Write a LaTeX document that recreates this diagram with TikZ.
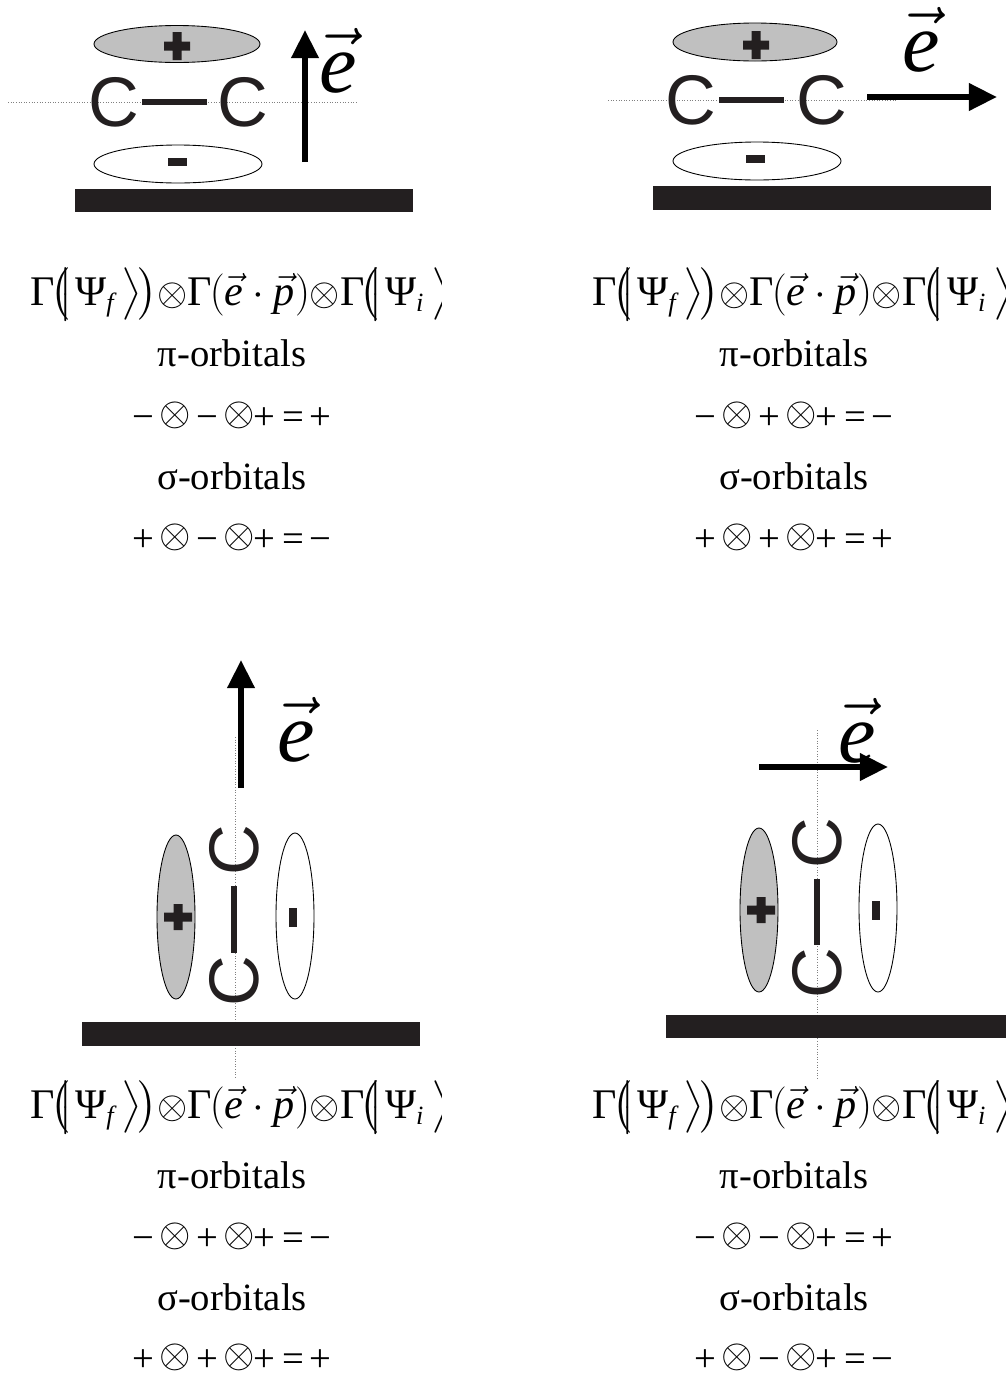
\documentclass[tikz,border=0pt]{standalone}
\usepackage{fix-cm}
\usepackage{amsmath}
\usepackage{graphicx}
\usepackage{fontspec}
\setmainfont{Liberation Serif}
\newfontfamily\atomfont{Liberation Sans}
\usetikzlibrary{arrows.meta}
\definecolor{surface}{RGB}{35,31,32}
\definecolor{lobegray}{RGB}{192,192,192}

% |Psi> inside the brackets
\newcommand{\psiket}[1]{\bigl(\mskip-5mu\bigl|\mskip1mu\mbox{Ψ}_{\mbox{\fontsize{15}{15}\selectfont\itshape #1}}\mskip3mu\bigr\rangle\mskip-2mu\bigr)}
\newcommand{\tens}{\mathord{\scalebox{0.92}{$\otimes$}}}
\newcommand{\selrule}{\mbox{Γ}\mskip-2mu\psiket{f}\tens\mbox{Γ}\mskip-1mu(\vec{\mbox{\itshape e}}\cdot\vec{\mbox{\itshape p}})\tens\mbox{Γ}\mskip-2mu\psiket{i}}
\newcommand{\fieldvec}{$\vec{\mbox{\itshape e}}$}
% sign product: a (x) b (x) + = c
\newcommand{\ox}{\raisebox{2pt}{\fontsize{23}{23}\selectfont$\otimes$}}
\newcommand{\parity}[3]{#1\hspace{3pt}\ox\hspace{3pt}#2\hspace{3pt}\ox\hspace{-0.5pt}+\hspace{4pt}=\hspace{3pt}#3}

\tikzset{
  lobe/.style={draw=black, line width=0.5pt},
  atom/.style={font=\atomfont\fontsize{40}{40}\selectfont, inner sep=0pt, text=surface},
  bond/.style={line width=3.4pt, surface},
  axis/.style={densely dotted, gray, line width=0.5pt},
  field/.style={line width=3.4pt, -{Triangle[width=15pt,length=16pt]}},
  lbl/.style={font=\fontsize{22}{26}\selectfont, inner sep=0pt},
  rulelbl/.style={font=\fontsize{24}{28}\selectfont, inner sep=0pt, anchor=base west},
  elbl/.style={font=\fontsize{48}{52}\selectfont, inner sep=0pt},
}

\begin{document}
\begin{tikzpicture}[x=0.02cm, y=-0.02cm]
\useasboundingbox (0,0) rectangle (1005,1373);

% ---------- top left: molecule flat, field normal ----------
\draw[axis] (8,102) -- (357,102);
\filldraw[lobe, fill=lobegray] (177,44) ellipse (83 and 18.5);
\filldraw[lobe, fill=white] (178,164) ellipse (84 and 19);
\fill[surface, shift={(177,46)}] (-13,-4.5) rectangle (13,4.5) (-4.5,-14) rectangle (4.5,14);
\fill[surface, shift={(177,162)}] (-9.5,-4) rectangle (9.5,4);
\node[atom] (tlca) at (114,102) {C};
\node[atom] (tlcb) at (243,102) {C};
\draw[bond, shorten <=1.5pt, shorten >=6pt] (tlca) -- (tlcb);
\coordinate (tlfrom) at (305,162);
\coordinate (tlto) at (305,30);
\draw[field] (tlfrom) -- (tlto);
\node[elbl] (tle) at (338,61) {\fieldvec};
\fill[surface] (75,189) rectangle (413,212);

% ---------- top right: molecule flat, field parallel ----------
\draw[axis] (608,100) -- (897,100);
\filldraw[lobe, fill=lobegray] (755,42) ellipse (82 and 19);
\filldraw[lobe, fill=white] (757,161) ellipse (84 and 19);
\fill[surface, shift={(756,45)}] (-13,-4.5) rectangle (13,4.5) (-4.5,-14) rectangle (4.5,14);
\fill[surface, shift={(755,159)}] (-9.5,-4) rectangle (9.5,4);
\node[atom] (trca) at (691,100) {C};
\node[atom] (trcb) at (822,100) {C};
\draw[bond, shorten <=1.5pt, shorten >=7pt] (trca) -- (trcb);
\coordinate (trfrom) at (867,97);
\coordinate (trto) at (997,97);
\draw[field] (trfrom) -- (trto);
\node[elbl] (tre) at (921,40) {\fieldvec};
\fill[surface] (653,186) rectangle (991,210);

% ---------- bottom left: molecule upright, field parallel ----------
\draw[axis] (235,737) -- (235,1078);
\filldraw[lobe, fill=lobegray] (176,917) ellipse (19 and 82);
\filldraw[lobe, fill=white] (295,916) ellipse (19 and 83);
\fill[surface, shift={(178,917)}] (-14,-4.5) rectangle (14,4.5) (-4.5,-13) rectangle (4.5,13);
\fill[surface, shift={(293,917)}] (-4,-9.5) rectangle (4,9.5);
\node[atom, rotate=90] (blca) at (234,981) {C};
\node[atom, rotate=90] (blcb) at (234,850) {C};
\draw[bond, shorten <=1.5pt, shorten >=6pt] (blca) -- (blcb);
\coordinate (blfrom) at (241,788);
\coordinate (blto) at (241,660);
\draw[field] (blfrom) -- (blto);
\node[elbl] (ble) at (296,730) {\fieldvec};
\fill[surface] (82,1022) rectangle (420,1046);

% ---------- bottom right: molecule upright, field normal ----------
\draw[axis] (817,730) -- (817,1078);
\filldraw[lobe, fill=lobegray] (759,910) ellipse (19 and 82);
\filldraw[lobe, fill=white] (878,908) ellipse (19 and 84);
\fill[surface, shift={(761,910)}] (-14,-4.5) rectangle (14,4.5) (-4.5,-13) rectangle (4.5,13);
\fill[surface, shift={(876,910)}] (-4,-9.5) rectangle (4,9.5);
\node[atom, rotate=90] (brca) at (817,973) {C};
\node[atom, rotate=90] (brcb) at (817,843) {C};
\draw[bond, shorten <=1.5pt, shorten >=6pt] (brca) -- (brcb);
\coordinate (brfrom) at (759,767);
\coordinate (brto) at (888,767);
\draw[field] (brfrom) -- (brto);
\node[elbl] (bre) at (857,731) {\fieldvec};
\fill[surface] (666,1015) rectangle (1010,1038);

% ---------- selection rules ----------
\begin{scope}
\clip (0,250) rectangle (441,1373);
\node[rulelbl] (tlrule) at (30,305) {$\selrule$};
\node[rulelbl] (blrule) at (30,1118) {$\selrule$};
\end{scope}
\node[rulelbl] (trrule) at (592,305) {$\selrule$};
\node[rulelbl] (brrule) at (592,1118) {$\selrule$};

\node[lbl, anchor=base] (tlpi) at (232,366) {π-orbitals};
\node[lbl, anchor=base] (tlpisign) at (232,429) {\parity{−}{−}{+}};
\node[lbl, anchor=base] (tlsig) at (232,489) {σ-orbitals};
\node[lbl, anchor=base] (tlsigsign) at (232,551) {\parity{+}{−}{−}};

\node[lbl, anchor=base] (trpi) at (794,366) {π-orbitals};
\node[lbl, anchor=base] (trpisign) at (794,429) {\parity{−}{+}{−}};
\node[lbl, anchor=base] (trsig) at (794,489) {σ-orbitals};
\node[lbl, anchor=base] (trsigsign) at (794,551) {\parity{+}{+}{+}};

\node[lbl, anchor=base] (blpi) at (232,1188) {π-orbitals};
\node[lbl, anchor=base] (blpisign) at (232,1250) {\parity{−}{+}{−}};
\node[lbl, anchor=base] (blsig) at (232,1310) {σ-orbitals};
\node[lbl, anchor=base] (blsigsign) at (232,1371) {\parity{+}{+}{+}};

\node[lbl, anchor=base] (brpi) at (794,1188) {π-orbitals};
\node[lbl, anchor=base] (brpisign) at (794,1250) {\parity{−}{−}{+}};
\node[lbl, anchor=base] (brsig) at (794,1310) {σ-orbitals};
\node[lbl, anchor=base] (brsigsign) at (794,1371) {\parity{+}{−}{−}};
\end{tikzpicture}
\end{document}
